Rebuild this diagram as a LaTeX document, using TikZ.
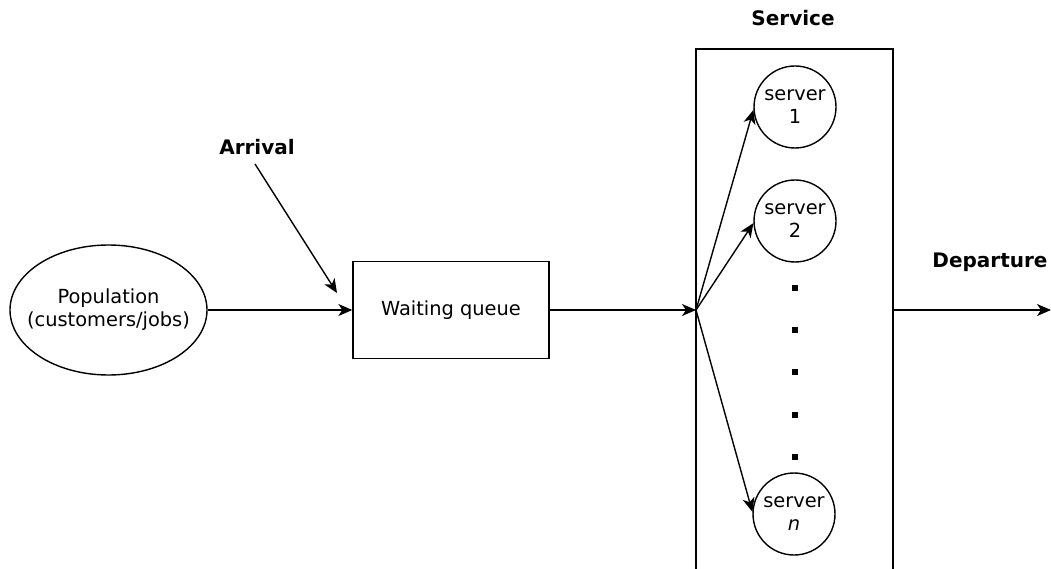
\documentclass[tikz,border=0pt]{standalone}
\usepackage{fontspec}
\setmainfont{DejaVu Sans}
\usetikzlibrary{shapes.geometric,arrows.meta}
\begin{document}
\begin{tikzpicture}[x=1pt,y=-1pt,
  line width=1.4pt,
  every node/.style={font=\fontsize{19.4}{23}\selectfont},
  arr/.style={-{Stealth[length=14pt,width=12pt,inset=4pt]}},
  lbl/.style={font=\fontsize{20}{24}\selectfont\bfseries, inner sep=0pt},
  srv/.style={draw, circle, minimum size=82pt, inner sep=0pt, align=center},
  dotmark/.style={fill=black, draw=none, minimum size=5.5pt, inner sep=0pt, rectangle}
]
\useasboundingbox (0,0) rectangle (1051,569);

% nodes
\node[draw, ellipse, minimum width=197pt, minimum height=130pt, inner xsep=-16pt, inner ysep=-8pt, align=center] (pop) at (108.5,310) {Population\\(customers/jobs)};
\node[draw, rectangle, minimum width=196pt, minimum height=97pt, inner sep=0pt] (queue) at (451,310) {Waiting queue};
\node[lbl] (arrival) at (257,147) {Arrival};
\node[lbl] (service) at (793,18) {Service};
\node[lbl] (departure) at (990,262) {Departure};

\node[srv] (s1) at (795,107) {server\\1};
\node[srv] (s2) at (795,221) {server\\2};
\node[srv] (sn) at (794,514) {server\\\textit{n}};

\node[dotmark] (d1) at (795,288) {};
\node[dotmark] (d2) at (795,330) {};
\node[dotmark] (d3) at (795,372) {};
\node[dotmark] (d4) at (795,415) {};
\node[dotmark] (d5) at (795,457) {};

% service box (cut at bottom)
\coordinate (sbl) at (696,570);
\coordinate (stl) at (696,49);
\coordinate (str) at (893,49);
\coordinate (sbr) at (893,570);
\draw (sbl) -- (stl) -- (str) -- (sbr);
\coordinate (branch) at (696,310);
\coordinate (svcout) at (893,310);
\coordinate (exit) at (1051,310);

% arrival arrow
\coordinate (arrS) at (255,164);
\coordinate (arrE) at (337,293);

% connectors
\draw[arr] (pop) -- (queue);
\draw[arr] (arrS) -- (arrE);
\draw[arr] (queue) -- (branch);
\draw[arr] (branch) -- (s1.184);
\draw[arr] (branch) -- (s2.183);
\draw[arr] (branch) -- (sn.177);
\draw[arr] (svcout) -- (exit);
\end{tikzpicture}
\end{document}
